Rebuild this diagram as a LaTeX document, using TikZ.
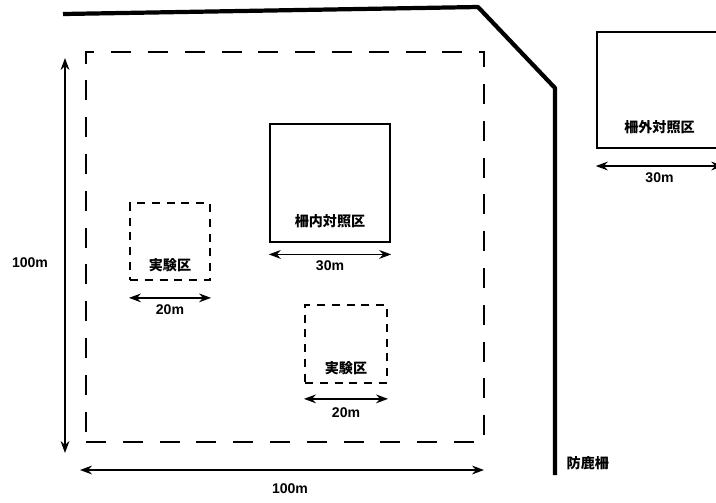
\documentclass[tikz,border=0pt]{standalone}
\usepackage{fontspec}
\setmainfont{Liberation Sans}
\newfontfamily\jpfont{Noto Sans CJK JP}
\usepackage{tikz}
\usetikzlibrary{arrows.meta, positioning, calc}
\tikzstyle{fence} = [line width=3pt, line join=round]
\tikzstyle{plotbox} = [rectangle, draw=black, line width=1.7pt, fill=none]
\tikzstyle{testbox} = [rectangle, draw=black, line width=1.5pt, dash pattern=on 0.2cm off 0.17cm]
\tikzstyle{area} = [rectangle, draw=black, line width=1.3pt, dash pattern=on 0.5cm off 0.42cm]
\tikzstyle{tag} = [draw=none, fill=none, inner sep=1pt, font=\jpfont\bfseries\normalsize]
\tikzstyle{dimtext} = [draw=none, fill=none, inner sep=1pt, font=\bfseries\normalsize]
\tikzstyle{dim} = [line width=1pt, {Stealth[length=3mm,width=2.2mm]}-{Stealth[length=3mm,width=2.2mm]}]

\begin{document}
\begin{tikzpicture}[x=0.025cm, y=-0.025cm]
\useasboundingbox (0,0) rectangle (716,502);
\clip (0,0) rectangle (716,502);

% ===== FENCE =====
\coordinate (fence_a) at (63,14);
\coordinate (fence_b) at (478,7);
\coordinate (fence_c) at (555,88);
\coordinate (fence_d) at (555,475);
\draw [fence] (fence_a) -- (fence_b) -- (fence_c) -- (fence_d);
\node (fence_label) [tag, anchor=west] at (565,463) {防鹿柵};

% ===== STUDY AREA (100m x 100m) =====
\node (area_box) [area, minimum width=9.95cm, minimum height=9.75cm] at (285,247) {};

\coordinate (vdim_top) at (65,58);
\coordinate (vdim_bot) at (65,453);
\draw [dim] (vdim_top) -- (vdim_bot);
\node (vdim_label) [dimtext] at (30,263) {100m};

\coordinate (hdim_left) at (80,470);
\coordinate (hdim_right) at (484,470);
\draw [dim] (hdim_left) -- (hdim_right);
\node (hdim_label) [dimtext] at (290,489) {100m};

% ===== CONTROL PLOT INSIDE FENCE =====
\node (inner_box) [plotbox, minimum width=3cm, minimum height=2.95cm] at (330,183) {};
\node (inner_label) [tag, above=0.33cm of inner_box.south] {柵内対照区};
\draw [dim] ([yshift=-0.28cm]inner_box.south west) -- ([yshift=-0.28cm]inner_box.south east);
\node (inner_dim) [dimtext, below=0.4cm of inner_box.south] {30m};

% ===== CONTROL PLOT OUTSIDE FENCE =====
\node (outer_box) [plotbox, minimum width=3.125cm, minimum height=2.9cm] at (659.5,90) {};
\node (outer_label) [tag, above=0.33cm of outer_box.south] {柵外対照区};
\draw [dim] ([yshift=-0.42cm]outer_box.south west) -- ([yshift=-0.42cm]outer_box.south east);
\node (outer_dim) [dimtext, below=0.55cm of outer_box.south] {30m};

% ===== TEST PLOTS =====
\node (test_left) [testbox, minimum width=2cm, minimum height=1.925cm] at (170,241.5) {};
\node (test_left_label) [tag, above=0.18cm of test_left.south] {実験区};
\draw [dim] ([yshift=-0.42cm]test_left.south west) -- ([yshift=-0.42cm]test_left.south east);
\node (test_left_dim) [dimtext, below=0.55cm of test_left.south] {20m};

\node (test_right) [testbox, minimum width=2.05cm, minimum height=1.95cm] at (346,344) {};
\node (test_right_label) [tag, above=0.18cm of test_right.south] {実験区};
\draw [dim] ([yshift=-0.37cm]test_right.south west) -- ([yshift=-0.37cm]test_right.south east);
\node (test_right_dim) [dimtext, below=0.55cm of test_right.south] {20m};

\end{tikzpicture}
\end{document}
